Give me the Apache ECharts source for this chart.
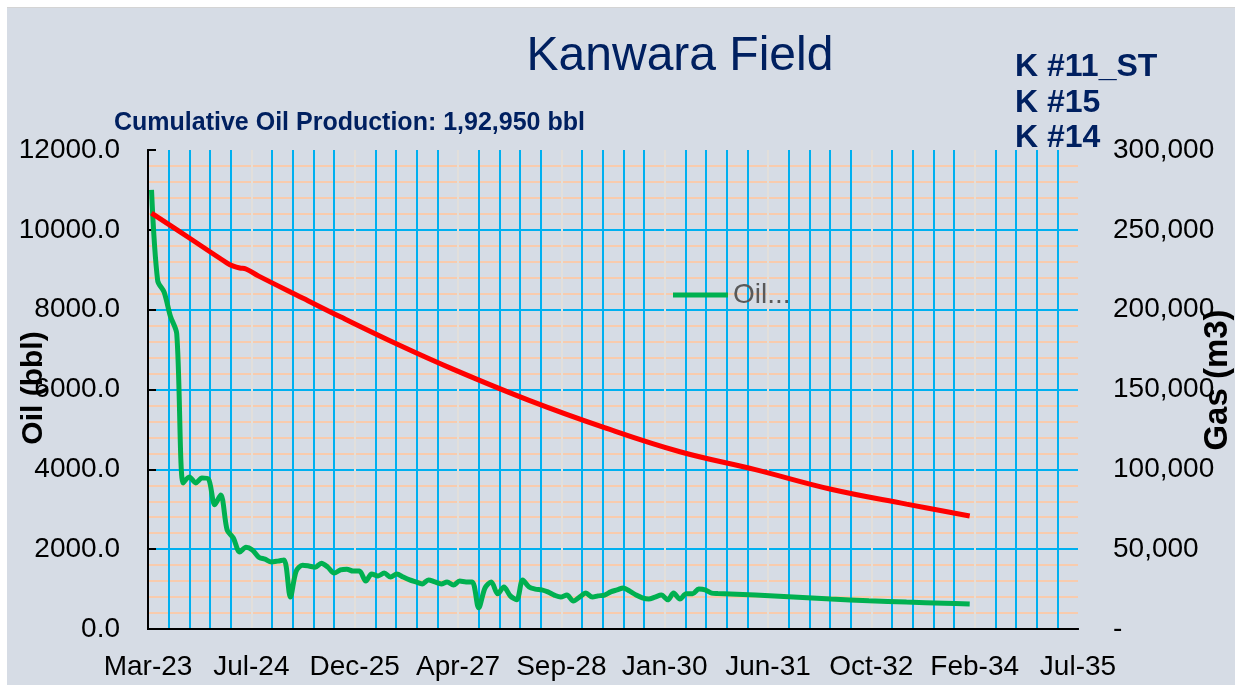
<!DOCTYPE html>
<html><head><meta charset="utf-8">
<script src="https://cdn.jsdelivr.net/npm/echarts@6/dist/echarts.min.js"></script>
<style>
html,body{margin:0;padding:0;background:#fff;width:1235px;height:685px;overflow:hidden}
#topline{position:absolute;left:7px;top:7px;width:1228px;height:1px;background:#d4d4d4}
#chart{position:absolute;left:7px;top:8px;width:1228px;height:677px}
</style></head><body>
<div id="topline"></div><div id="chart"></div>
<script>
// ---- data ----
const xTickLabels = ['Mar-23','Jul-24','Dec-25','Apr-27','Sep-28','Jan-30','Jun-31','Oct-32','Feb-34','Jul-35'];
const oilMonths = [
 '2023-04','2023-05','2023-06','2023-07','2023-08','2023-09','2023-10','2023-11','2023-12',
 '2024-01','2024-02','2024-03','2024-04','2024-05','2024-06','2024-07','2024-08','2024-09','2024-10','2024-11','2024-12',
 '2025-01','2025-02','2025-03','2025-04','2025-05','2025-06','2025-07','2025-08','2025-09','2025-10','2025-11','2025-12',
 '2026-01','2026-02','2026-03','2026-04','2026-05','2026-06','2026-07','2026-08','2026-09','2026-10','2026-11','2026-12',
 '2027-01','2027-02','2027-03','2027-04','2027-05','2027-06','2027-07','2027-08','2027-09','2027-10','2027-11','2027-12',
 '2028-01','2028-02','2028-03','2028-04','2028-05','2028-06','2028-07','2028-08','2028-09','2028-10','2028-11','2028-12',
 '2029-01','2029-02','2029-03','2029-04','2029-05','2029-06','2029-07','2029-08','2029-09','2029-10','2029-11','2029-12',
 '2030-01','2030-02','2030-03','2030-04','2030-05','2030-06','2030-07','2030-08','2030-09','2030-10',
 '2031-04','2031-10','2032-04','2032-10','2033-04','2033-10','2034-02'];
const oilValues = [
 11000,8720,8440,7840,7400,3660,3810,3660,3780,
 3760,3110,3360,2480,2280,1930,2050,1980,1800,1750,1680,1700,
 1730,800,1450,1600,1580,1550,1650,1550,1400,1480,1500,1450,
 1450,1200,1380,1330,1400,1300,1380,1300,1230,1180,1130,1230,
 1180,1130,1180,1100,1200,1180,1180,530,1030,1180,880,1050,
 830,730,1230,1050,1000,980,930,850,800,850,700,800,
 900,800,830,850,930,980,1030,950,850,780,750,800,
 850,730,900,750,880,880,1000,980,900,890,
 850,800,750,710,675,645,625];
const gasMonths = ['2023-04','2023-10','2024-04','2024-05','2024-06','2024-07','2024-09','2025-04','2025-10',
 '2026-07','2027-04','2028-04','2029-04','2030-04','2031-04','2032-04','2033-04','2034-02'];
const gasValues = [260500,244900,229200,227300,226100,225500,221000,207300,195500,
 178500,162600,143200,126100,111000,99800,87500,78200,70800];

const AXIS_START = Date.UTC(2023,2,15);
function dayOf(m){ const p = m.split('-').map(Number); return (Date.UTC(p[0],p[1]-1,1)-AXIS_START)/86400000; }

const FONT = "'Liberation Sans', Arial, sans-serif";
const NAVY = '#002060';
const chart = echarts.init(document.getElementById('chart'));
const option = {
  backgroundColor:'#d6dce5',
  animation:false,
  textStyle:{fontFamily:FONT},
  grid:{left:141,right:157,top:142,bottom:56},
  legend:{data:['Oil...'],left:666,top:273,padding:0,itemWidth:55,itemHeight:5,itemGap:5,icon:'rect',
    textStyle:{fontSize:28,color:'#595959',fontFamily:FONT}},
  xAxis:[
    {type:'value',min:0,max:4500,interval:500,z:1,
     axisLine:{show:true,lineStyle:{color:'#000',width:2}},axisTick:{show:false},
     axisLabel:{formatter:v=>xTickLabels[Math.round(v/500)],fontSize:28,color:'#000',margin:24,fontFamily:FONT},
     splitLine:{show:true,showMinLine:false,showMaxLine:false,lineStyle:{color:'#e2dfdb',width:2}},
     minorTick:{show:false,splitNumber:5},
     minorSplitLine:{show:true,lineStyle:{color:'#00b0f0',width:2}}},
    {type:'value',min:0,max:4500,interval:500,position:'top',z:3,
     axisLine:{show:true,lineStyle:{color:'#000',width:2}},axisTick:{show:false},
     axisLabel:{show:false},splitLine:{show:false}}
  ],
  yAxis:[
    {type:'value',min:0,max:12000,interval:2000,position:'left',z:0,
     axisLine:{show:true,lineStyle:{color:'#000',width:2}},axisTick:{show:false},
     axisLabel:{formatter:v=>v.toFixed(1),fontSize:28,color:'#000',margin:28,fontFamily:FONT},
     splitLine:{show:true,showMinLine:false,showMaxLine:false,lineStyle:{color:'#00b0f0',width:2}},
     minorTick:{show:false,splitNumber:5},
     minorSplitLine:{show:true,lineStyle:{color:'#f8cbad',width:2}}},
    {type:'value',min:0,max:300000,interval:50000,position:'right',z:3,
     axisLine:{show:true,lineStyle:{color:'#000',width:2}},
     axisTick:{show:true,length:8,lineStyle:{color:'#000',width:2}},
     axisLabel:{formatter:v=>v===0?'-':v.toLocaleString('en-US'),fontSize:28,color:'#000',margin:35,fontFamily:FONT},
     splitLine:{show:false}}
  ],
  series:[
    {name:'Oil...',type:'line',yAxisIndex:0,symbol:'none',smooth:0.3,z:3,
     lineStyle:{color:'#00b050',width:5},itemStyle:{color:'#00b050'},
     data:oilMonths.map((m,i)=>[dayOf(m),oilValues[i]])},
    {name:'Gas',type:'line',yAxisIndex:1,symbol:'none',smooth:0.4,z:4,
     lineStyle:{color:'#ff0000',width:5},itemStyle:{color:'#ff0000'},
     data:gasMonths.map((m,i)=>[dayOf(m),gasValues[i]])}
  ],
  graphic:[
    {type:'text',x:673,y:25,style:{text:'Kanwara Field',fill:NAVY,font:'48px '+FONT,align:'center',textAlign:'center',verticalAlign:'top',textVerticalAlign:'top'}},
    {type:'text',x:107,y:103,style:{text:'Cumulative Oil Production: 1,92,950 bbl',fill:NAVY,font:'bold 25px '+FONT,align:'left',textAlign:'left',verticalAlign:'top',textVerticalAlign:'top'}},
    {type:'text',x:1008,y:43,style:{text:'K #11_ST',fill:NAVY,font:'bold 32px '+FONT,verticalAlign:'top',textVerticalAlign:'top'}},
    {type:'text',x:1008,y:79,style:{text:'K #15',fill:NAVY,font:'bold 32px '+FONT,verticalAlign:'top',textVerticalAlign:'top'}},
    {type:'text',x:1008,y:114,style:{text:'K #14',fill:NAVY,font:'bold 32px '+FONT,verticalAlign:'top',textVerticalAlign:'top'}},
    {type:'text',x:27,y:380,rotation:Math.PI/2,style:{text:'Oil (bbl)',fill:'#000',font:'bold 30px '+FONT,align:'center',textAlign:'center',verticalAlign:'middle',textVerticalAlign:'middle'}},
    {type:'text',x:1211,y:372,rotation:Math.PI/2,style:{text:'Gas (m3)',fill:'#000',font:'bold 33px '+FONT,align:'center',textAlign:'center',verticalAlign:'middle',textVerticalAlign:'middle'}}
  ]
};
chart.setOption(option);
</script>
</body></html>
